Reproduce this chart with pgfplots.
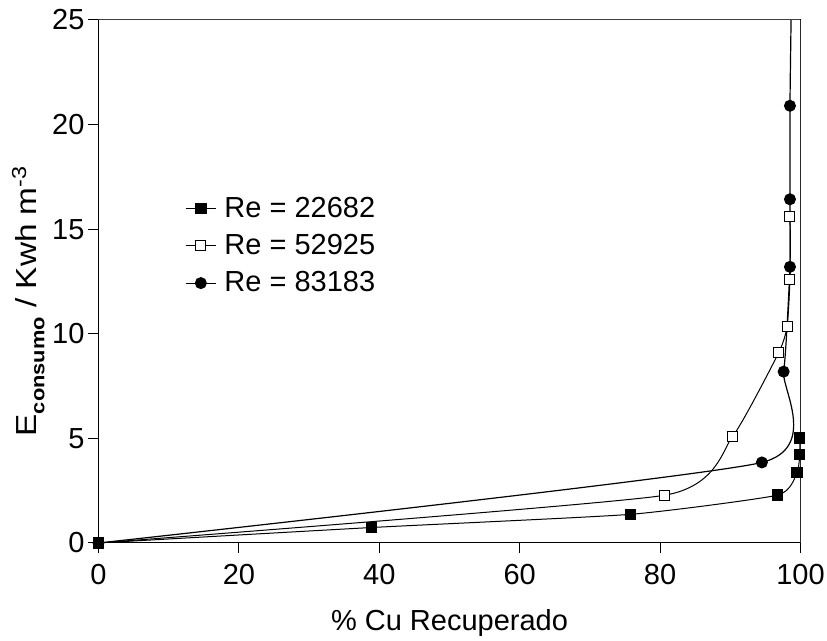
\documentclass[border=0pt]{standalone}
\usepackage{graphicx}
\usepackage{fontspec}
\setmainfont{Liberation Sans}
\usepackage{pgfplots}
\pgfplotsset{compat=1.18}

\newcommand{\chartfont}{\fontsize{14.5}{17}\selectfont}

\begin{document}
\begin{tikzpicture}
\useasboundingbox (-49.25pt,-49pt) rectangle (364.25pt,271.5pt);
\begin{axis}[
  at={(0,0)}, anchor=south west,
  scale only axis, width=351pt, height=261.5pt,
  xmin=0, xmax=100, ymin=0, ymax=25,
  xtick={0,20,...,100}, ytick={0,5,...,25},
  tick align=outside, tick pos=left, major tick length=5pt,
  tick style={black, line width=0.5pt},
  axis line style={black, line width=0.5pt},
  /pgf/number format/assume math mode=true,
  font=\chartfont,
  ticklabel style={font=\chartfont},
  xticklabel style={yshift=-2pt},
  yticklabel style={xshift=1.5pt},
  xlabel={\% Cu Recuperado},
  ylabel={\scalebox{1.15}[1]{E\raisebox{-0.5ex}{\fontsize{9.5}{9.5}\selectfont\bfseries consumo} / Kwh m\textsuperscript{-3}}},
  xlabel style={at={(axis description cs:0.5,-0.153)}, anchor=center},
  ylabel style={at={(axis description cs:-0.1,0.463)}, anchor=center},
  legend style={at={(axis cs:12.3,16.75)}, anchor=north west, draw=none,
    fill=none, inner sep=0pt, font=\chartfont, cells={anchor=west},
    row sep=3pt},
  reverse legend,
  legend image code/.code={%
    \draw[mark repeat=2,mark phase=2] plot coordinates {(0pt,0pt) (7.5pt,0pt) (15pt,0pt)};
    \path (17pt,0pt);},
]
% Re = 83183
\addplot[black, line width=0.6pt, smooth, tension=0.3, mark=*, mark size=2.7pt,
  mark options={solid, fill=black}]
  coordinates {(0,0) (94.5,3.85) (97.6,8.19) (98.5,13.2) (98.5,16.43) (98.5,20.9) (98.7,26)};
\addlegendentry{Re = 83183}
% Re = 52925
\addplot[black, line width=0.5pt, smooth, tension=0.3, mark=square*, mark size=2.5pt,
  mark options={solid, fill=white}]
  coordinates {(0,0) (80.6,2.28) (90.3,5.08) (96.9,9.1) (98.1,10.36) (98.5,12.6) (98.5,15.63)};
\addlegendentry{Re = 52925}
% Re = 22682
\addplot[black, line width=0.5pt, smooth, tension=0.3, mark=square*, mark size=2.6pt,
  mark options={solid, fill=black}]
  coordinates {(0,0) (38.9,0.74) (75.8,1.37) (96.75,2.29) (99.5,3.36) (99.9,4.24) (99.9,5.02)};
\addlegendentry{Re = 22682}
% plot area border
\draw[black!75, line width=0.5pt] (rel axis cs:0,1) -- (rel axis cs:1,1);
\draw[black!55, line width=0.5pt] (rel axis cs:1,1) -- (rel axis cs:1,0);
\end{axis}
\end{tikzpicture}
\end{document}
